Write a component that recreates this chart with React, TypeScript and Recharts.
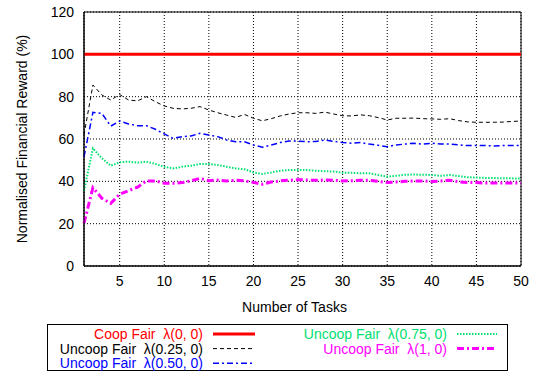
import { LineChart, Line, XAxis, YAxis, CartesianGrid, ReferenceArea, Label } from "recharts";

const tasks = [
  1, 2, 3, 4, 5, 6, 7, 8, 9, 10, 11, 12, 13, 14, 15, 16, 17, 18, 19, 20, 21, 22, 23, 24, 25,
  26, 27, 28, 29, 30, 31, 32, 33, 34, 35, 36, 37, 38, 39, 40, 41, 42, 43, 44, 45, 46, 47, 48, 49, 50,
];

const coopFair = [
  100, 100, 100, 100, 100, 100, 100, 100, 100, 100, 100, 100, 100, 100, 100, 100, 100, 100, 100, 100, 100, 100, 100, 100, 100,
  100, 100, 100, 100, 100, 100, 100, 100, 100, 100, 100, 100, 100, 100, 100, 100, 100, 100, 100, 100, 100, 100, 100, 100, 100,
];

const uncoop025 = [
  62, 85.5, 80.8, 78.4, 81, 78.4, 78, 80, 77.6, 75.6, 74.5, 74.2, 74.5, 75.3, 73.7, 72.4, 71.3, 70.2, 71.6, 69.8, 68.6, 69.6, 70.9, 71.8, 72.4,
  72.4, 72.1, 72.7, 71.8, 71, 70.9, 71.4, 71, 70.1, 69, 69.8, 69.8, 69.9, 69.6, 69.5, 69.3, 69.6, 68.7, 68.1, 67.9, 67.9, 67.9, 68, 68.3, 68.5,
];

const uncoop050 = [
  51.6, 72.6, 72.1, 66.1, 68.5, 67.1, 66.3, 66.3, 64.6, 62.4, 60.3, 61.1, 61.4, 62.7, 61.9, 61.1, 59.5, 58.7, 58.7, 57.2, 56.1, 57.2, 58.3, 59, 59,
  58.7, 58.8, 59.5, 58.9, 58.3, 58, 58.3, 57.6, 57, 56.4, 57.2, 57.6, 58, 57.6, 58, 57.6, 57.6, 57.2, 56.9, 56.9, 56.9, 56.7, 56.9, 56.9, 56.9,
];

const uncoop075 = [
  35.5, 55.6, 50.9, 47.4, 49, 49.3, 48.8, 49.3, 48.2, 46.9, 46.1, 46.9, 47.4, 48.2, 48.2, 47.7, 46.9, 46.1, 45.7, 44.2, 43.5, 44.2, 45, 45.4, 45.4,
  45.3, 45, 44.8, 44.6, 44.1, 44, 43.8, 43.8, 43, 42.2, 42.6, 43.1, 43.2, 43.1, 43, 42.6, 43, 42.5, 41.9, 41.8, 41.6, 41.6, 41.4, 41.4, 41.3,
];

const uncoop100 = [
  20.2, 37, 32, 29.6, 33.9, 35.6, 37.2, 40.2, 40.2, 39.1, 39.1, 39.4, 40.2, 41.4, 40.3, 40.6, 40.2, 40.5, 40.2, 39.5, 38.6, 39.7, 40.2, 40.5, 40.8,
  40.6, 40.5, 40.6, 40.5, 40.2, 40.3, 40.5, 40.5, 40, 39.4, 39.7, 40, 40.2, 40.2, 39.9, 40.2, 40.5, 39.8, 39.5, 39.4, 39.2, 39.2, 39.2, 39.2, 39.2,
];

const xTicks = [5, 10, 15, 20, 25, 30, 35, 40, 45, 50];
const yTicks = [0, 20, 40, 60, 80, 100, 120];

const FONT = "'Liberation Sans', Arial, sans-serif";

const SERIES = [
  { key: "coop", label: "Coop Fair  λ(0, 0)", color: "#ff0000", width: 3, dash: undefined },
  { key: "u025", label: "Uncoop Fair  λ(0.25, 0)", color: "#000000", width: 1, dash: "4 3" },
  { key: "u050", label: "Uncoop Fair  λ(0.50, 0)", color: "#0000ff", width: 1.5, dash: "6 3 2 3" },
  { key: "u075", label: "Uncoop Fair  λ(0.75, 0)", color: "#00e070", width: 2, dash: "1.5 1.5" },
  { key: "u100", label: "Uncoop Fair  λ(1, 0)", color: "#ff00ff", width: 3, dash: "7 3 2 3" },
];

const data = tasks.map((t, i) => ({
  task: t,
  coop: coopFair[i],
  u025: uncoop025[i],
  u050: uncoop050[i],
  u075: uncoop075[i],
  u100: uncoop100[i],
}));

// legend placement: column 1 has three rows, column 2 has two
const LEGEND_POS = [
  { col: 0, row: 0 },
  { col: 0, row: 1 },
  { col: 0, row: 2 },
  { col: 1, row: 0 },
  { col: 1, row: 1 },
];

function LegendBox() {
  const colTextEnd = [156, 400];
  const colLineStart = [166, 410];
  const lineLen = [42, 40];
  return (
    <svg width={461} height={47} style={{ position: "absolute", left: 47, top: 324 }}>
      <rect x={0.5} y={0.5} width={460} height={46} fill="#fff" stroke="#000" strokeWidth={1} />
      {SERIES.map((s, i) => {
        const { col, row } = LEGEND_POS[i];
        const cy = 10 + row * 14.6;
        return (
          <g key={s.key}>
            <text
              x={colTextEnd[col]}
              y={cy + 5}
              textAnchor="end"
              fill={s.color}
              fontSize={14}
              fontFamily={FONT}
              style={{ whiteSpace: "pre" }}
            >
              {s.label}
            </text>
            <line
              x1={colLineStart[col]}
              x2={colLineStart[col] + lineLen[col]}
              y1={cy}
              y2={cy}
              stroke={s.color}
              strokeWidth={s.width}
              strokeDasharray={s.dash}
            />
          </g>
        );
      })}
    </svg>
  );
}

export default function App() {
  const tick = { fontSize: 14, fill: "#000", fontFamily: FONT };
  return (
    <div style={{ position: "absolute", left: 0, top: 0, width: 537, height: 374, background: "#fff" }}>
      <LineChart width={537} height={374} data={data} margin={{ top: 12, right: 16, left: 0, bottom: 68 }}>
        <CartesianGrid stroke="#000" strokeDasharray="1 2" vertical horizontal />
        <XAxis
          dataKey="task"
          type="number"
          domain={[1, 50]}
          ticks={xTicks}
          tick={tick}
          tickLine={false}
          tickMargin={4}
          axisLine={{ stroke: "#000" }}
          height={40}
        >
          <Label
            content={({ viewBox }: any) => (
              <text
                x={viewBox.x + viewBox.width / 2 - 8}
                y={viewBox.y + 46}
                textAnchor="middle"
                fontSize={14}
                fontFamily={FONT}
                fill="#000"
              >
                Number of Tasks
              </text>
            )}
          />
        </XAxis>
        <YAxis
          type="number"
          domain={[0, 120]}
          ticks={yTicks}
          tick={tick}
          tickLine={false}
          tickMargin={4}
          axisLine={{ stroke: "#000" }}
          width={84}
        >
          <Label
            content={({ viewBox }: any) => {
              const x = viewBox.x + 27;
              const y = viewBox.y + viewBox.height / 2;
              return (
                <text
                  x={x}
                  y={y}
                  transform={`rotate(-90, ${x}, ${y})`}
                  textAnchor="middle"
                  fontSize={14}
                  fontFamily={FONT}
                  fill="#000"
                >
                  Normalised Financial Reward (%)
                </text>
              );
            }}
          />
        </YAxis>
        <ReferenceArea x1={1} x2={50} y1={0} y2={120} fill="none" stroke="#000" strokeWidth={1} ifOverflow="visible" />
        {SERIES.map((s) => (
          <Line
            key={s.key}
            dataKey={s.key}
            type="linear"
            stroke={s.color}
            strokeWidth={s.width}
            strokeDasharray={s.dash}
            dot={false}
            activeDot={false}
            isAnimationActive={false}
          />
        ))}
      </LineChart>
      <LegendBox />
    </div>
  );
}
